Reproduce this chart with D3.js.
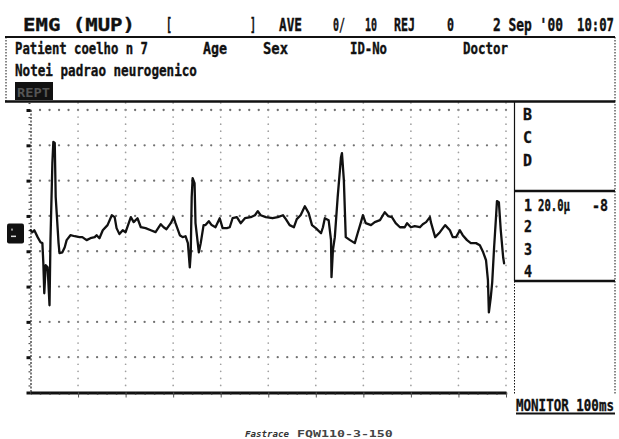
<!DOCTYPE html>
<html><head><meta charset="utf-8">
<script src="https://cdn.jsdelivr.net/npm/d3@7"></script>
<style>
body{margin:0;background:#fff}
svg{display:block}
text{font-family:"DejaVu Sans Mono",monospace;font-weight:bold;fill:#111}
</style>
</head><body><svg id="c" width="619" height="439"></svg>
<script>
// ---- data: EMG trace, time in ms, amplitude in µV ----
const timeMs = [0,0.4,0.8,1.5,2.1,2.5,2.7,2.9,3.2,3.6,4.0,4.2,4.6,4.8,5.1,5.3,5.9,6.1,6.7,7.2,7.6,8.4,9.3,10.3,10.9,11.8,12.6,13.5,13.9,14.5,15.2,16.2,17.1,17.7,18.1,18.7,19.4,20.0,21.1,21.7,22.5,23.2,24.2,25.3,26.3,27.4,28.0,28.6,29.5,30.1,30.5,31.4,32.0,32.6,33.1,33.5,33.7,33.9,34.1,34.5,34.7,35.4,35.8,36.4,36.8,37.5,38.1,38.9,39.8,40.4,41.3,41.9,42.5,43.4,44.2,45.1,46.3,47.2,47.8,48.4,49.5,50.9,52.0,53.1,53.7,54.5,55.4,56.0,56.8,57.7,58.5,59.2,60.0,61.1,61.5,61.9,62.7,63.2,63.3,63.6,64.0,64.6,65.3,65.5,65.9,66.3,67.2,68.2,68.8,69.5,69.9,70.5,71.6,72.4,73.5,74.5,75.2,76.0,76.8,77.7,78.7,79.2,80.0,80.8,81.9,82.5,83.2,84.0,84.2,85.1,86.1,87.2,88.2,88.8,89.5,90.3,90.9,91.8,92.6,93.7,94.5,95.2,95.8,96.2,96.4,96.8,97.1,97.5,97.9,98.1,98.5,98.9,99.4,99.6];
const ampUv = [1.9,0.8,1.9,-2.0,-4.9,-5.4,-16.8,-33.8,-17.9,-19.1,-40.6,-3.7,39.9,51.9,51.3,20.7,-5.4,-11.1,-10.6,-7.7,-3.7,-0.9,-1.5,-2.0,-2.0,-3.7,-2.6,-2.0,-0.9,-2.6,1.9,4.8,10.4,9.3,3.1,-0.3,1.9,0.8,9.3,6.5,8.7,3.6,3.1,1.9,0.8,5.3,3.6,2.5,5.9,9.3,5.9,-0.9,-2.0,-1.5,-5.4,-19.1,-11.1,20.7,31.4,28.6,5.9,-10.6,-5.4,4.8,4.8,7.0,4.8,3.6,8.7,3.1,3.1,3.6,8.7,9.3,5.9,8.7,9.3,10.4,12.7,10.4,9.3,8.7,9.3,10.4,8.2,4.8,3.6,8.2,10.4,15.5,11.6,4.8,3.1,0.2,3.6,8.7,7.6,-3.7,-24.7,-9.4,-2.0,20.7,43.3,45.6,30.3,-2.0,-3.7,-5.4,0.2,6.5,10.4,5.9,4.8,6.5,7.6,12.1,9.9,9.3,5.9,3.6,3.6,5.9,3.6,4.2,3.6,5.3,6.5,9.3,6.5,-2.0,0.8,4.8,1.9,-2.0,-2.0,1.9,-0.9,-3.7,-5.4,-5.4,-6.6,-10.6,-15.1,-26.4,-44.6,-36.1,-27.6,-7.7,9.3,18.4,17.8,1.9,-13.4,-16.8];

// ---- axes ticks (10 ms / div, 20 µV / div) ----
const xMajorTicks = d3.range(0, 101, 10);
const xMinorTicks = d3.range(0, 101, 2);
const yMajorTicks = d3.range(-90, 71, 20);
const yMinorTicks = d3.range(-90, 75, 4);

// ---- texts ----
const headerTop = ["EMG (MUP)", "[", "]", "AVE", "0/", "10", "REJ", "0", "2 Sep '00", "10:07"];
const headerRow2 = ["Patient coelho n 7", "Age", "Sex", "ID-No", "Doctor"];
const noteText = "Notei padrao neurogenico";
const channelLetters = ["B", "C", "D"];
const channelNums = ["1", "2", "3", "4"];
const channel1Info = ["20.0\u00b5", "-8"];
const monitorText = "MONITOR 100ms";
const footer = ["Fastrace", "FQW110-3-150"];

const svg = d3.select("#c");
const x = d3.scaleLinear().domain([0, 100]).range([30.5, 506]);
const y = d3.scaleLinear().domain([-90, 70]).range([392.5, 110]);

// ---- grid dots ----
const g = svg.append("g");
yMajorTicks.filter(v => v > -90).forEach(v => {
  g.selectAll(null).data(xMinorTicks.filter(t => t > 0)).join("circle")
    .attr("cx", t => x(t)).attr("cy", y(v)).attr("r", 1.15).attr("fill", "#707070");
});
xMajorTicks.filter(t => t > 0).forEach(t => {
  g.selectAll(null).data(yMinorTicks.filter(v => v > -90)).join("circle")
    .attr("cx", x(t)).attr("cy", v => y(v)).attr("r", 0.85).attr("fill", "#a0a0a0");
});

// ---- left axis ----
const la = svg.append("g").attr("transform", `translate(${x(0)},0)`);
la.call(d3.axisLeft(y).tickValues(yMinorTicks).tickSize(2).tickFormat(""));
la.select(".domain").attr("stroke", "#333").attr("stroke-width", 1.3).attr("stroke-dasharray", "2,1.5");
la.selectAll(".tick line").attr("stroke", "#555").attr("stroke-width", 1.2);
const la2 = svg.append("g").attr("transform", `translate(${x(0)},0)`);
la2.call(d3.axisLeft(y).tickValues(yMajorTicks).tickSize(4).tickSizeOuter(0).tickFormat(""));
la2.select(".domain").remove();
la2.selectAll(".tick line").attr("stroke", "#111").attr("stroke-width", 3);

// ---- bottom axis ----
const ba = svg.append("g").attr("transform", `translate(0,${y(-90)})`);
ba.call(d3.axisBottom(x).tickValues(xMinorTicks).tickSize(2).tickSizeOuter(0).tickFormat(""));
ba.select(".domain").attr("stroke", "#111").attr("stroke-width", 2.8);
ba.selectAll(".tick line").attr("stroke", "#222").attr("stroke-width", 1.5);
const ba2 = svg.append("g").attr("transform", `translate(0,${y(-90)})`);
ba2.call(d3.axisBottom(x).tickValues(xMajorTicks.filter(t => t > 0)).tickSize(5).tickSizeOuter(0).tickFormat(""));
ba2.select(".domain").remove();
ba2.selectAll(".tick line").attr("stroke", "#555").attr("stroke-width", 1);

// ---- trace ----
const data = timeMs.map((t, i) => [t, ampUv[i]]);
svg.append("path").datum(data)
  .attr("d", d3.line().x(d => x(d[0])).y(d => y(d[1])))
  .attr("fill", "none").attr("stroke", "#111").attr("stroke-width", 2.3)
  .attr("stroke-linejoin", "round").attr("stroke-linecap", "round");

// ---- baseline marker ----
svg.append("rect").attr("x", 7).attr("y", y(0) - 10).attr("width", 17).attr("height", 20).attr("rx", 2).attr("fill", "#111");
svg.append("rect").attr("x", 11).attr("y", y(0) + 2).attr("width", 5).attr("height", 1.5).attr("fill", "#ddd");
svg.append("rect").attr("x", 11).attr("y", y(0) - 5).attr("width", 2).attr("height", 2).attr("fill", "#999");

// ---- header frame ----
const L = (x1, y1, x2, y2, w, dash) => svg.append("line").attr("x1", x1).attr("y1", y1).attr("x2", x2).attr("y2", y2)
  .attr("stroke", "#111").attr("stroke-width", w).attr("stroke-dasharray", dash || null);
L(5, 37, 615, 37, 2);
L(5, 101.5, 615, 101.5, 2.4);
L(6, 37, 6, 101, 1, "1.5,1.5");
L(615, 37, 615, 101, 1, "1.5,1.5");
// right panel
L(514.5, 101, 514.5, 281, 1.2);
L(514.5, 281, 514.5, 395, 1, "1.5,1.5");
L(615, 101, 615, 395, 1, "1.5,1.5");
L(514, 191, 615, 191, 2.4);
L(514, 281, 615, 281, 2.4);
L(516, 413.5, 615, 413.5, 2);

// ---- texts (condensed by horizontal scaling so the box fits the width) ----
const CW = 0.602; // DejaVu Sans Mono advance per em
const T = (s, xx, yy, size, len, opts = {}) => {
  const sx = len ? len / (s.length * CW * size) : 1;
  const t = svg.append("text").attr("transform", `translate(${xx},${yy}) scale(${sx.toFixed(4)},1)`)
    .attr("font-size", size).text(s);
  if (opts.fill) t.style("fill", opts.fill);
  if (opts.italic) t.attr("font-style", "italic");
  if (opts.family) t.style("font-family", opts.family);
  if (opts.weight) t.style("font-weight", opts.weight);
  if (opts.stroke !== false) t.style("stroke", opts.fill || "#111").style("stroke-width", 0.35);
  return t;
};
const topPos = [[23, 112, 18.5], [166, 6, 17], [250, 6, 17], [279, 23, 17], [333, 12, 17], [365, 12, 17], [394, 21, 17], [447, 7, 17], [493, 70, 17], [577, 37, 17]];
headerTop.forEach((s, i) => T(s, topPos[i][0], 31, topPos[i][2], topPos[i][1]));
const row2Pos = [[15, 133], [203, 24], [263, 25], [350, 37], [463, 45]];
headerRow2.forEach((s, i) => T(s, row2Pos[i][0], 53.5, 15, row2Pos[i][1]));
T(noteText, 15, 76, 15, 182);
svg.append("rect").attr("x", 15).attr("y", 82).attr("width", 38).attr("height", 18).attr("fill", "#111");
T("REPT", 17, 97, 13, 33, { fill: "#555", stroke: false });

channelLetters.forEach((s, i) => T(s, 523, [120, 143, 166][i], 16, 9));
channelNums.forEach((s, i) => T(s, 524, [211, 232, 255, 277][i], 16, 8));
T(channel1Info[0], 538, 211, 16, 32);
T(channel1Info[1], 592, 211, 16, 16);
T(monitorText, 516, 411, 16, 98);

T(footer[0], 245, 437, 9, 44, { italic: true, fill: "#333", stroke: false });
T(footer[1], 297, 437, 9, 96, { fill: "#444", stroke: false });
</script>
</body></html>
